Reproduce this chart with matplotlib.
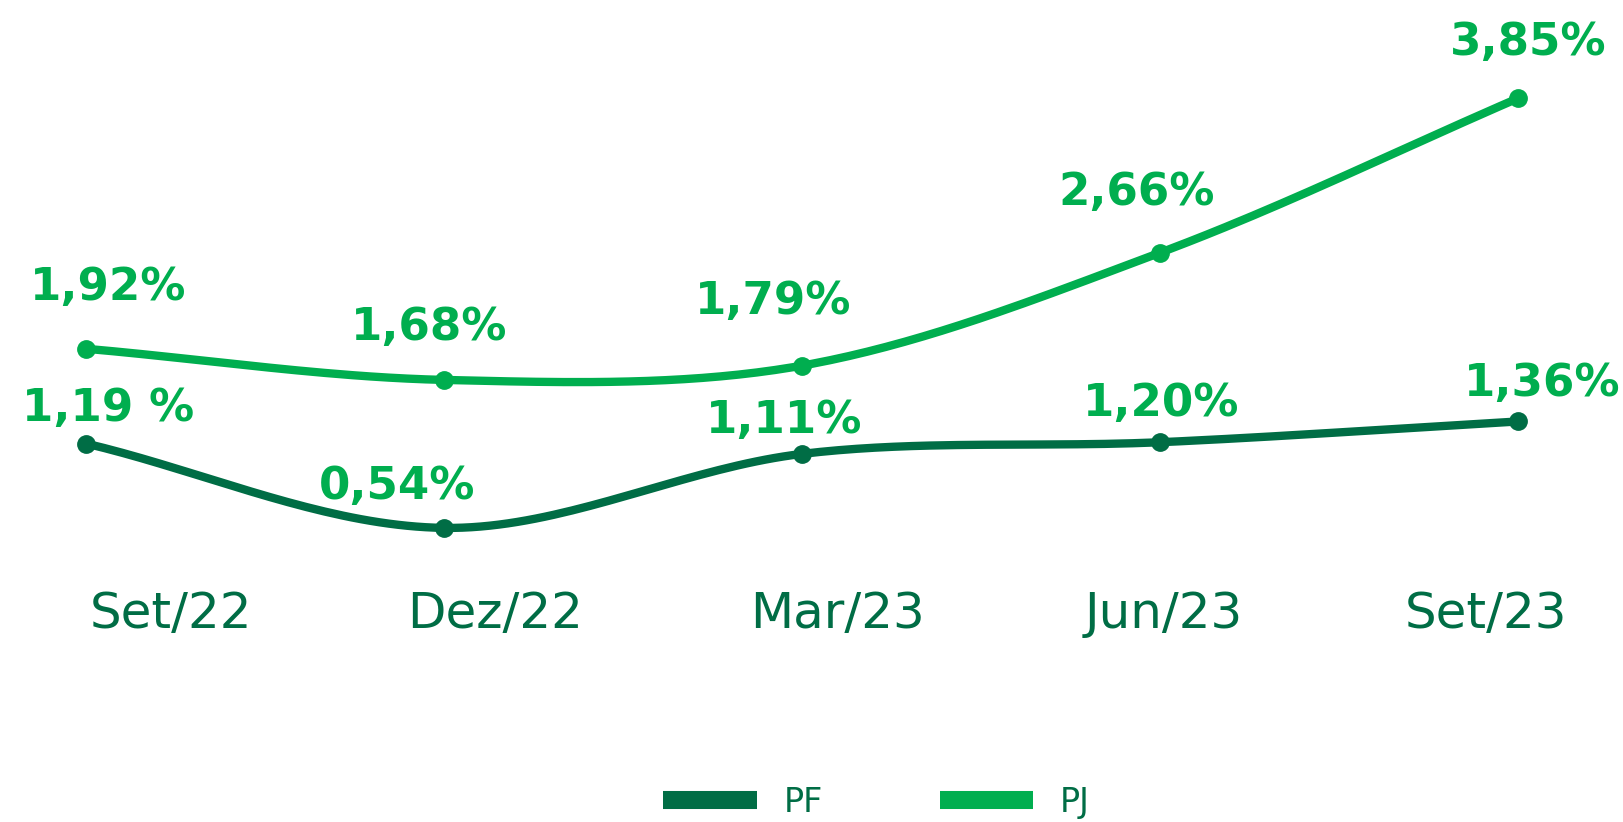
import numpy as np
import matplotlib
matplotlib.use("Agg")
import matplotlib.pyplot as plt
from matplotlib.lines import Line2D

# data
categories = ["Set/22", "Dez/22", "Mar/23", "Jun/23", "Set/23"]
pf = [1.19, 0.54, 1.11, 1.20, 1.36]
pj = [1.92, 1.68, 1.79, 2.66, 3.85]
pf_labels = ["1,19 %", "0,54%", "1,11%", "1,20%", "1,36%"]
pj_labels = ["1,92%", "1,68%", "1,79%", "2,66%", "3,85%"]

PF_COLOR = "#006D45"
PJ_COLOR = "#00AE4F"

# layout (label offsets in points, tick label positions in category units)
pf_offsets = [(16, 16), (-34, 21), (-13, 15), (1, 19), (17, 18)]
pj_offsets = [(16, 35), (-11, 29), (-21, 37), (-17, 34), (7, 31)]
tick_pos = [0.237, 1.142, 2.10, 3.01, 3.91]

fig = plt.figure(figsize=(16.23, 8.22), dpi=100)
ax = fig.add_axes([0, 0, 1, 1])
ax.set_xlim(-0.24, 4.293)
ax.set_ylim(-1.726, 4.607)
ax.axis("off")


def spline(xs, ys, tension=1/3, n=40):
    # smoothed line (cubic bezier through the points), built in pixel space
    pts = ax.transData.transform(np.column_stack([xs, ys]))
    m = len(pts)
    cps = []
    for i in range(m):
        prev = pts[max(i - 1, 0)]
        cur = pts[i]
        nxt = pts[min(i + 1, m - 1)]
        d01 = np.hypot(*(cur - prev))
        d12 = np.hypot(*(nxt - cur))
        tot = d01 + d12
        fa = tension * d01 / tot if tot else 0
        fb = tension * d12 / tot if tot else 0
        cps.append((cur - fa * (nxt - prev), cur + fb * (nxt - prev)))
    out = []
    t = np.linspace(0, 1, n)[:, None]
    for i in range(m - 1):
        p0 = pts[i]
        p1 = cps[i][1]
        p2 = cps[i + 1][0]
        p3 = pts[i + 1]
        seg = ((1 - t) ** 3) * p0 + 3 * ((1 - t) ** 2) * t * p1 + 3 * (1 - t) * t ** 2 * p2 + t ** 3 * p3
        out.append(seg if i == 0 else seg[1:])
    out = np.vstack(out)
    data = ax.transData.inverted().transform(out)
    return data[:, 0], data[:, 1]


x = np.arange(len(categories))
for vals, color in [(pf, PF_COLOR), (pj, PJ_COLOR)]:
    sx, sy = spline(x, vals)
    ax.plot(sx, sy, color=color, lw=6, solid_capstyle="round")
    ax.plot(x, vals, "o", color=color, ms=12.5)

for vals, labels, offs in [(pf, pf_labels, pf_offsets), (pj, pj_labels, pj_offsets)]:
    for xi, v, lab, off in zip(x, vals, labels, offs):
        ax.annotate(lab, (xi, v), xytext=off, textcoords="offset points",
                    ha="center", va="baseline", fontsize=32.5, fontweight="bold",
                    color=PJ_COLOR, family="DejaVu Sans")

for p, c in zip(tick_pos, categories):
    ax.text(p, -0.235, c, ha="center", va="baseline", fontsize=36,
            color=PF_COLOR, family="DejaVu Sans")

handles = [Line2D([], [], color=PF_COLOR, lw=13, solid_capstyle="butt"),
           Line2D([], [], color=PJ_COLOR, lw=13, solid_capstyle="butt")]
fig.legend(handles, ["PF", "PJ"], loc="center", bbox_to_anchor=(0.54, 0.024),
           ncol=2, frameon=False, fontsize=24, handlelength=2.8,
           handletextpad=0.8, columnspacing=3.5, labelcolor=PF_COLOR)

fig.savefig("out.png", dpi=100)
